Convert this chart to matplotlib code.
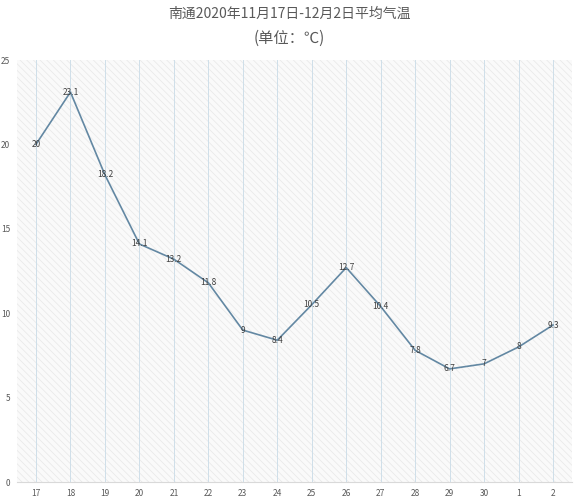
import matplotlib
matplotlib.use('Agg')
import matplotlib.pyplot as plt
from matplotlib.patches import Rectangle

plt.rcParams['font.family'] = ['Noto Sans CJK SC', 'DejaVu Sans']
plt.rcParams['hatch.color'] = '#e8e8e8'
plt.rcParams['hatch.linewidth'] = 0.5

# data
days = ['17', '18', '19', '20', '21', '22', '23', '24', '25', '26',
        '27', '28', '29', '30', '1', '2']
temps = [20, 23.1, 18.2, 14.1, 13.2, 11.8, 9, 8.4, 10.5, 12.7,
         10.4, 7.8, 6.7, 7, 8, 9.3]
y_ticks = [0, 5, 10, 15, 20, 25]

fig = plt.figure(figsize=(5.79, 5.00), dpi=100)
ax = fig.add_axes([17 / 579, 18 / 500, 555 / 579, 422 / 500])

x = list(range(len(days)))

# hatched background
ax.set_facecolor('#fafafa')
ax.add_patch(Rectangle((0, 0), 1, 1, transform=ax.transAxes,
                       facecolor='none', edgecolor='#e8e8e8',
                       hatch='\\\\\\\\\\', linewidth=0, zorder=0))

for xi in x:
    ax.axvline(xi, color='#cfdfe9', linewidth=0.7, zorder=1)

ax.plot(x, temps, color='#6388a3', linewidth=1.2, zorder=3)

for xi, t in zip(x, temps):
    ax.text(xi, t, f'{t:g}', ha='center', va='center',
            fontsize=6, color='#404040', zorder=4)

ax.set_xlim(-0.55, len(days) - 0.45)
ax.set_ylim(0, 25)
ax.set_xticks(x)
ax.set_xticklabels(days)
ax.set_yticks(y_ticks)
ax.tick_params(axis='both', length=0, labelsize=6, labelcolor='#595959')
ax.tick_params(axis='y', pad=5)
ax.tick_params(axis='x', pad=5)

for side in ['top', 'right', 'left']:
    ax.spines[side].set_visible(False)
ax.spines['bottom'].set_color('#d9d9d9')
ax.spines['bottom'].set_linewidth(0.8)

fig.text(0.5, 1 - 14 / 500, '南通2020年11月17日-12月2日平均气温',
         ha='center', va='center', fontsize=10, color='#595959')
fig.text(0.5, 1 - 38 / 500, '(单位：℃)',
         ha='center', va='center', fontsize=11, color='#595959')

fig.savefig('out.png', dpi=100, facecolor='white')
